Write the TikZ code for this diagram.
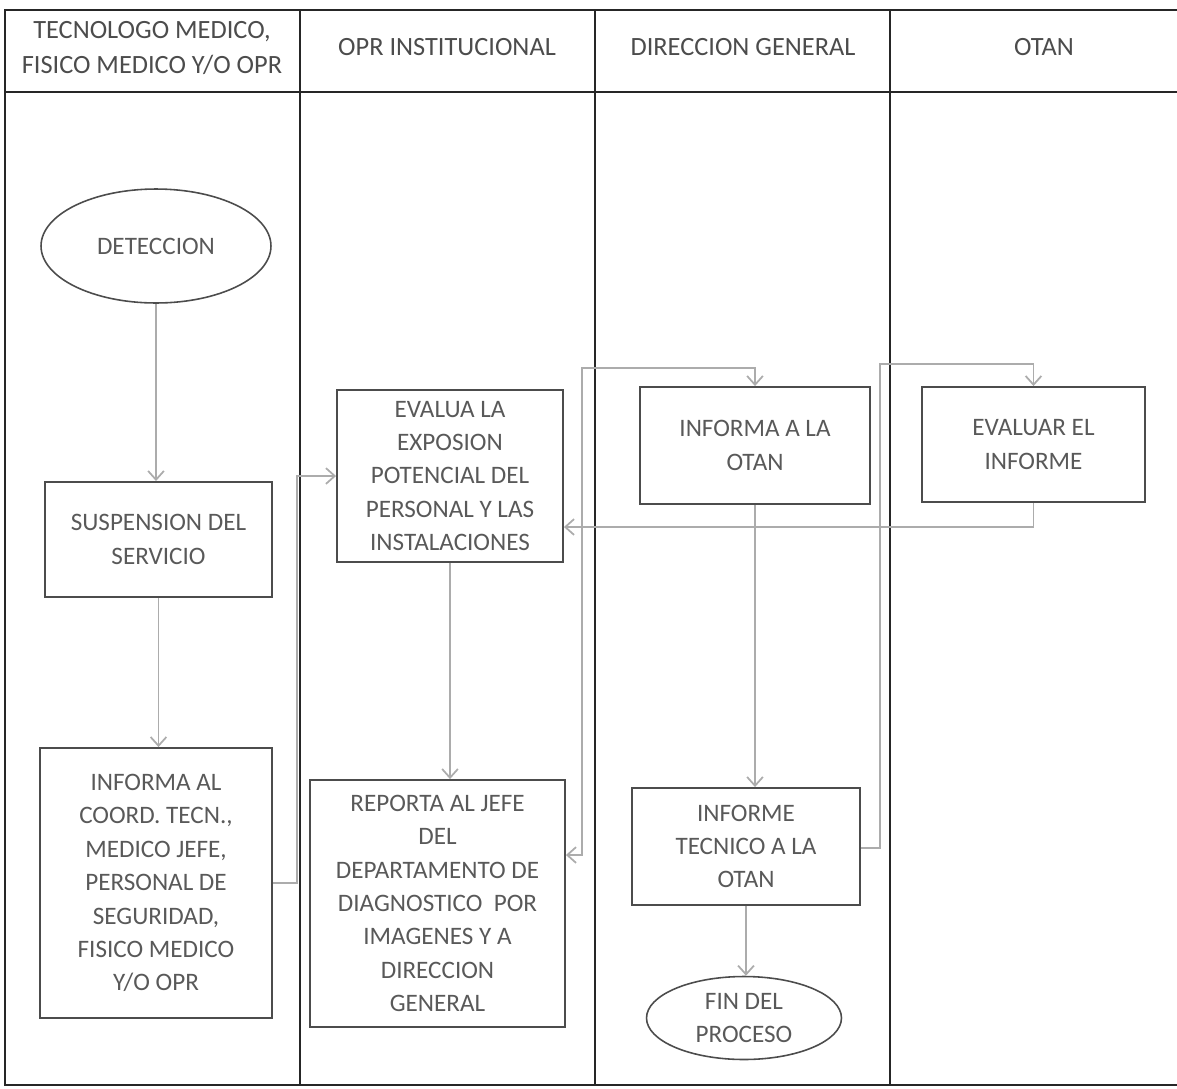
\documentclass[tikz,border=0pt]{standalone}
\usepackage{fontspec}
\setmainfont{Carlito}
\usepackage{xcolor}
\usepackage{tikz}
\usetikzlibrary{positioning,arrows.meta,shapes.geometric}

\begin{document}
\begin{tikzpicture}[x=0.02cm, y=-0.02cm,
    lane/.style={black!85, line width=1.3pt},
    box/.style={draw=black!70, line width=1.1pt, align=center, inner sep=0pt,
      text=black!65, font=\fontsize{14.3}{19}\selectfont},
    term/.style={box, ellipse, line width=0.9pt},
    link/.style={draw=gray!65, line width=1pt, -{Straight Barb[length=5pt, width=9pt]}},
    head/.style={align=center, text=black!70, font=\fontsize{15}{20}\selectfont}]
  \useasboundingbox (0,0) rectangle (1177,1089);

  % Draw the swimlanes
  \draw[lane] (1177,10) -- (5,10) -- (5,1085) -- (1177,1085);
  \draw[lane] (5,92) -- (1177,92);
  \foreach \xl in {300,595,890} {
    \draw[lane] (\xl,10) -- (\xl,1085);
  }

  % Lane titles
  \node[head] (h1) at (152,48) {TECNOLOGO MEDICO,\\FISICO MEDICO Y/O OPR};
  \node[head] (h2) at (447,47) {OPR INSTITUCIONAL};
  \node[head] (h3) at (743,47) {DIRECCION GENERAL};
  \node[head] (h4) at (1044,47) {OTAN};

  % Steps of the process
  \node[term, minimum width=4.6cm, minimum height=2.28cm] (detec) at (156,246) {DETECCION};
  \node[box, minimum width=4.54cm, minimum height=2.3cm] (susp) at (158.5,539.5)
    {SUSPENSION DEL\\SERVICIO};
  \node[box, minimum width=4.64cm, minimum height=5.4cm] (infcoord) at (156,883)
    {INFORMA AL\\COORD. TECN.,\\MEDICO JEFE,\\PERSONAL DE\\SEGURIDAD,\\FISICO MEDICO\\Y/O OPR};
  \node[box, minimum width=4.52cm, minimum height=3.44cm] (evalua) at (450,476)
    {EVALUA LA\\EXPOSION\\POTENCIAL DEL\\PERSONAL Y LAS\\INSTALACIONES};
  \node[box, minimum width=5.1cm, minimum height=4.94cm] (reporta) at (437.5,903.5)
    {REPORTA AL JEFE\\DEL\\DEPARTAMENTO DE\\DIAGNOSTICO\ \ POR\\IMAGENES Y A\\DIRECCION\\GENERAL};
  \node[box, minimum width=4.6cm, minimum height=2.34cm] (infotan) at (755,445.5)
    {INFORMA A LA\\OTAN};
  \node[box, minimum width=4.46cm, minimum height=2.3cm] (evalinf) at (1033.5,444.5)
    {EVALUAR EL\\INFORME};
  \node[box, minimum width=4.56cm, minimum height=2.34cm] (inftec) at (746,846.5)
    {INFORME\\TECNICO A LA\\OTAN};
  \node[term, minimum width=3.9cm, minimum height=1.66cm] (fin) at (744,1018)
    {FIN DEL\\PROCESO};

  % Connectors
  \draw[link] (detec.south) -- (detec.south |- susp.north);
  \draw[link] (susp.south) -- (susp.south |- infcoord.north);
  \draw[link] (infcoord.east) -- ++(24,0) |- (evalua.west);
  \draw[link] (evalua.south) -- (evalua.south |- reporta.north);
  \draw[link, {Straight Barb[length=5pt, width=9pt]}-{Straight Barb[length=5pt, width=9pt]}]
    (reporta.east |- 0,855) -| (582,368) -| (infotan.north);
  \draw[link] (infotan.south) -- (infotan.south |- inftec.north);
  \draw[link] (inftec.east |- 0,848) -| (880,364) -| (evalinf.north);
  \draw[link] (evalinf.south) |- (evalua.east |- 0,527);
  \draw[link] (inftec.south) -- (inftec.south |- fin.north);
\end{tikzpicture}
\end{document}
